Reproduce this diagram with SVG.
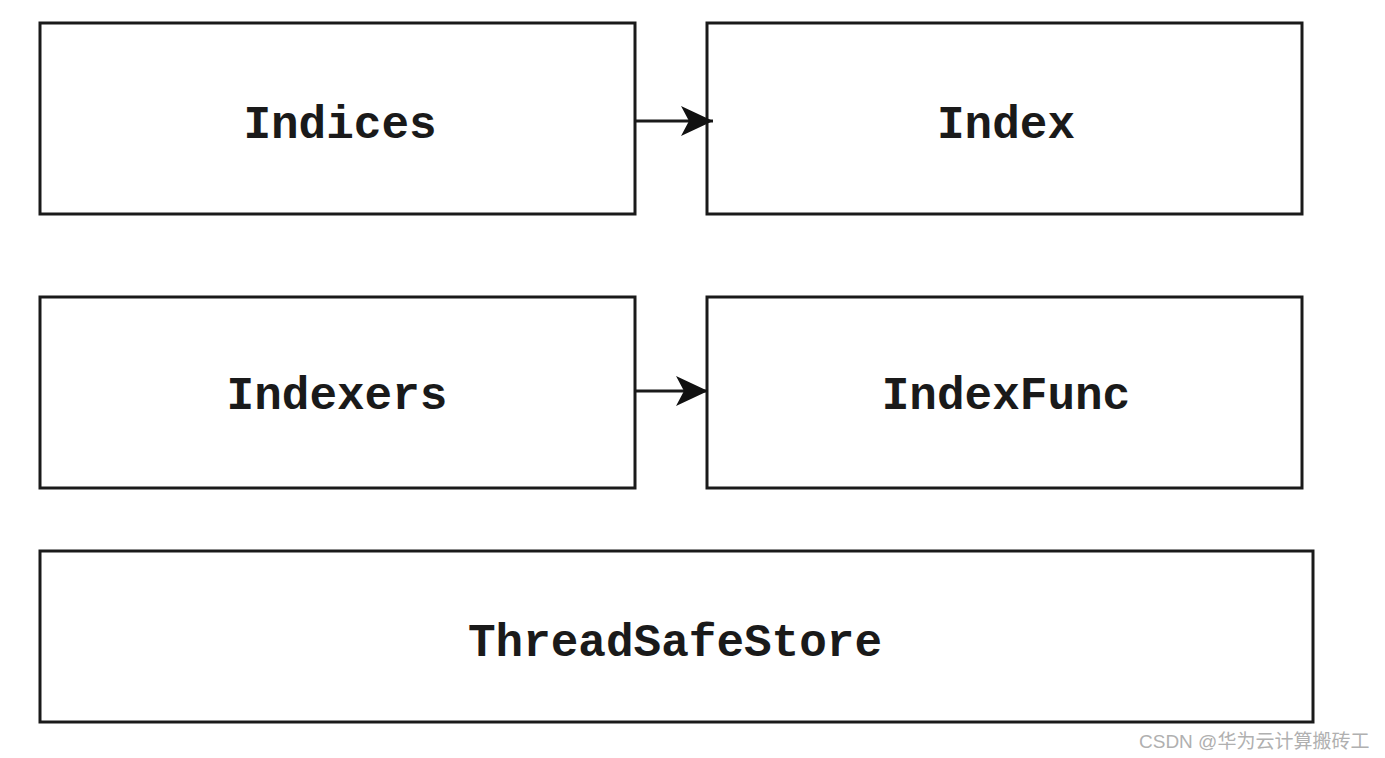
<svg xmlns="http://www.w3.org/2000/svg" width="1385" height="758" viewBox="0 0 1385 758">
<style>
.box{fill:#fff;stroke:#1a1a1a;stroke-width:3}
.lbl{font-family:"Liberation Mono","Courier New",monospace;font-weight:bold;font-size:46px;fill:#1a1a1a;text-anchor:middle}
.conn{stroke:#1a1a1a;stroke-width:3;fill:none}
.wm{font-family:"Liberation Sans","Noto Sans CJK SC",sans-serif;font-size:19px;fill:#b0b0b0}
</style>
<defs>
<marker id="arr" markerWidth="34" markerHeight="32" refX="32" refY="16" markerUnits="userSpaceOnUse" orient="auto">
<path d="M0,1 L32,16 L0,31 L8,16 Z" fill="#111"/>
</marker>
</defs>
<rect width="1385" height="758" fill="#fff"/>
<g id="indices"><rect class="box" x="40" y="23" width="595" height="191"/><text class="lbl" x="340" y="138">Indices</text></g>
<g id="index"><rect class="box" x="707" y="23" width="595" height="191"/><text class="lbl" x="1006" y="138">Index</text></g>
<g id="indexers"><rect class="box" x="40" y="297" width="595" height="191"/><text class="lbl" x="337" y="409">Indexers</text></g>
<g id="indexfunc"><rect class="box" x="707" y="297" width="595" height="191"/><text class="lbl" x="1006" y="409">IndexFunc</text></g>
<g id="threadsafestore"><rect class="box" x="40" y="551" width="1273" height="171"/><text class="lbl" x="675" y="656">ThreadSafeStore</text></g>
<g id="connectors">
<line class="conn" x1="635" y1="121" x2="713" y2="121" marker-end="url(#arr)"/>
<line class="conn" x1="635" y1="391" x2="708" y2="391" marker-end="url(#arr)"/>
</g>
<text class="wm" x="1139" y="748">CSDN @华为云计算搬砖工</text>
</svg>
